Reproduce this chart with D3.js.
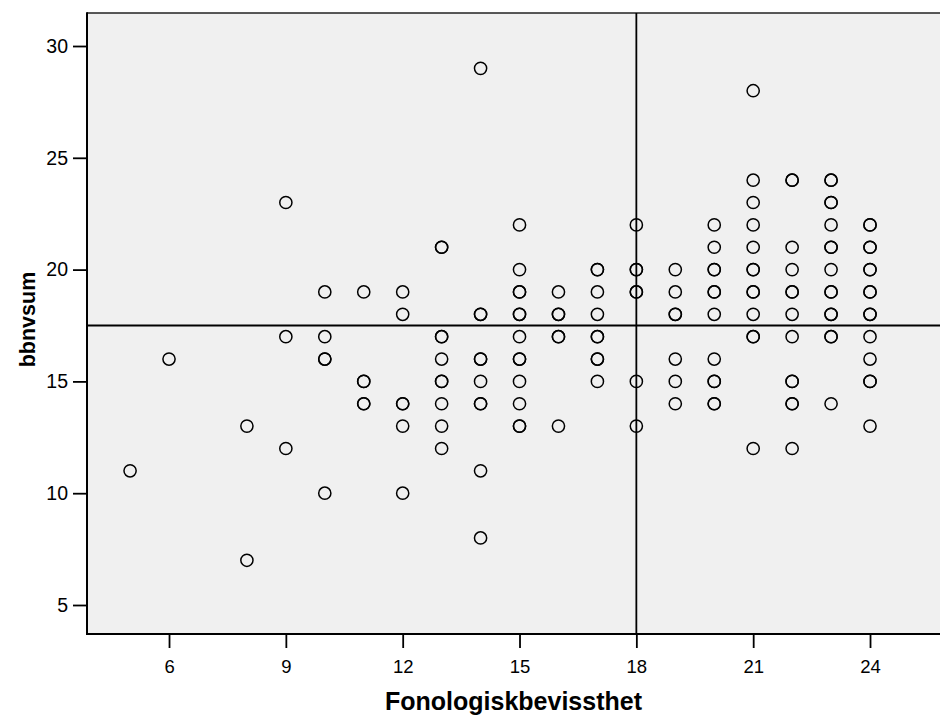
<!DOCTYPE html>
<html>
<head>
<meta charset="utf-8">
<script src="https://cdn.jsdelivr.net/npm/d3@7"></script>
<style>
  html, body { margin: 0; padding: 0; background: #fff; }
  svg { display: block; }
  text { font-family: "Liberation Sans", Arial, sans-serif; fill: #000; }
</style>
</head>
<body>
<div id="chart"></div>
<script>
// ---- data ----
const xLabel = "Fonologiskbevissthet";
const yLabel = "bbnvsum";
const xTicks = [6, 9, 12, 15, 18, 21, 24];
const yTicks = [5, 10, 15, 20, 25, 30];
const refX = 18;     // vertical reference line
const refY = 17.5;   // horizontal reference line

// Fonologiskbevissthet values (x) and the bbnvsum values observed at each (duplicates repeated)
const fonScores = [5, 6, 8, 9, 10, 11, 12, 13, 14, 15, 16, 17, 18, 19, 20, 21, 22, 23, 24];
const bbn5  = [11];
const bbn6  = [16];
const bbn8  = [13, 7];
const bbn9  = [23, 17, 12];
const bbn10 = [19, 17, 16, 16, 10];
const bbn11 = [19, 15, 15, 14, 14];
const bbn12 = [19, 18, 14, 14, 13, 10];
const bbn13 = [21, 21, 17, 17, 16, 15, 15, 14, 13, 12];
const bbn14 = [29, 18, 18, 16, 16, 15, 14, 14, 11, 8];
const bbn15 = [22, 20, 19, 19, 18, 18, 17, 16, 16, 15, 14, 13, 13];
const bbn16 = [19, 18, 18, 17, 17, 13];
const bbn17 = [20, 20, 19, 18, 17, 17, 16, 16, 15];
const bbn18 = [22, 20, 20, 19, 19, 15, 13];
const bbn19 = [20, 19, 18, 18, 16, 15, 14];
const bbn20 = [22, 21, 20, 20, 19, 19, 18, 16, 15, 15, 14, 14];
const bbn21 = [28, 24, 23, 22, 21, 20, 20, 19, 19, 18, 17, 17, 12];
const bbn22 = [24, 24, 21, 20, 19, 19, 18, 17, 15, 15, 14, 14, 12];
const bbn23 = [24, 24, 23, 23, 22, 21, 21, 20, 19, 19, 18, 18, 17, 17, 14];
const bbn24 = [22, 22, 21, 21, 20, 20, 19, 19, 18, 18, 17, 16, 15, 15, 13];
const bbnByScore = [bbn5, bbn6, bbn8, bbn9, bbn10, bbn11, bbn12, bbn13, bbn14, bbn15,
                    bbn16, bbn17, bbn18, bbn19, bbn20, bbn21, bbn22, bbn23, bbn24];

const points = [];
fonScores.forEach((f, i) => bbnByScore[i].forEach(b => points.push({x: f, y: b})));

// ---- layout ----
const W = 940, H = 715;
const plot = {left: 87, right: 940, top: 13, bottom: 634};

const x = d3.scaleLinear().domain([3.894, 25.797]).range([plot.left, plot.right]);
const y = d3.scaleLinear().domain([3.703, 31.476]).range([plot.bottom, plot.top]);

const svg = d3.select("#chart").append("svg").attr("width", W).attr("height", H);

svg.append("rect")
  .attr("x", plot.left).attr("y", plot.top)
  .attr("width", plot.right - plot.left + 5).attr("height", plot.bottom - plot.top)
  .attr("fill", "#f0f0f0");

// top border
svg.append("line")
  .attr("x1", plot.left).attr("x2", plot.right + 5)
  .attr("y1", plot.top).attr("y2", plot.top)
  .attr("stroke", "#222").attr("stroke-width", 1.6);

// reference lines
svg.append("line")
  .attr("x1", x(refX)).attr("x2", x(refX))
  .attr("y1", plot.top).attr("y2", plot.bottom)
  .attr("stroke", "#000").attr("stroke-width", 1.8);
svg.append("line")
  .attr("x1", plot.left).attr("x2", plot.right + 5)
  .attr("y1", y(refY)).attr("y2", y(refY))
  .attr("stroke", "#000").attr("stroke-width", 1.8);

// points
svg.append("g").selectAll("circle").data(points).join("circle")
  .attr("cx", d => x(d.x))
  .attr("cy", d => y(d.y))
  .attr("r", 6.1)
  .attr("fill", "none")
  .attr("stroke", "#000")
  .attr("stroke-width", 1.5);

// axes
const gx = svg.append("g").attr("transform", `translate(0,${plot.bottom})`)
  .call(d3.axisBottom(x).tickValues(xTicks).tickSize(14).tickPadding(12).tickFormat(d3.format("d")));
gx.select(".domain").remove();
gx.selectAll(".tick line").attr("stroke", "#000").attr("stroke-width", 1.8);
gx.selectAll(".tick text").attr("font-size", 18.5).attr("font-family", "'Liberation Sans', Arial, sans-serif");

const gy = svg.append("g").attr("transform", `translate(${plot.left},0)`)
  .call(d3.axisLeft(y).tickValues(yTicks).tickSize(14).tickPadding(5).tickFormat(d3.format("d")));
gy.select(".domain").remove();
gy.selectAll(".tick line").attr("stroke", "#000").attr("stroke-width", 1.8);
gy.selectAll(".tick text").attr("font-size", 19.5).attr("font-family", "'Liberation Sans', Arial, sans-serif");

// axis lines
svg.append("line")
  .attr("x1", plot.left).attr("x2", plot.left)
  .attr("y1", plot.top - 0.8).attr("y2", plot.bottom + 1)
  .attr("stroke", "#000").attr("stroke-width", 2);
svg.append("line")
  .attr("x1", plot.left - 1).attr("x2", plot.right + 5)
  .attr("y1", plot.bottom).attr("y2", plot.bottom)
  .attr("stroke", "#000").attr("stroke-width", 2);

// axis titles
svg.append("text")
  .attr("x", (plot.left + plot.right) / 2)
  .attr("y", 710)
  .attr("text-anchor", "middle")
  .attr("font-size", 25)
  .attr("font-weight", "bold")
  .text(xLabel);

svg.append("text")
  .attr("transform", `translate(35,${(plot.top + plot.bottom) / 2 - 4}) rotate(-90)`)
  .attr("text-anchor", "middle")
  .attr("font-size", 21.5)
  .attr("font-weight", "bold")
  .text(yLabel);
</script>
</body>
</html>
